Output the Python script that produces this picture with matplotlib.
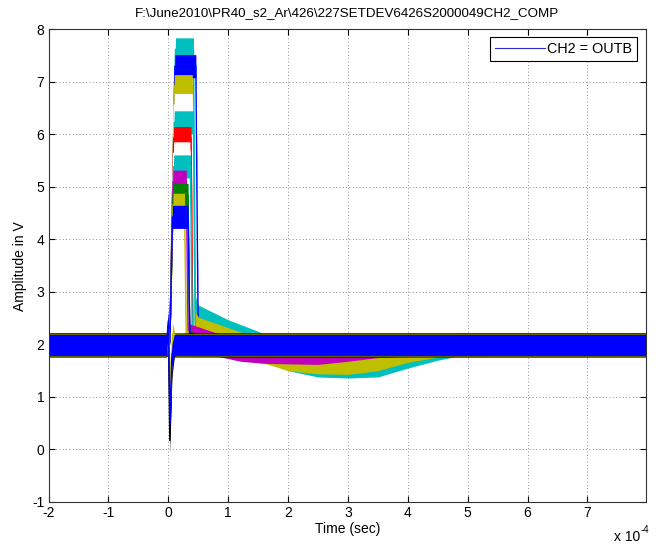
import matplotlib
matplotlib.use("Agg")
import matplotlib.pyplot as plt
from matplotlib.lines import Line2D

plt.rcParams['font.family'] = ['Liberation Sans', 'DejaVu Sans']

# ---------------- data (time in units of 1e-4 s, amplitude in V) ----------------
title = r"F:\June2010\PR40_s2_Ar\426\227SETDEV6426S2000049CH2_COMP"
legend_label = "CH2 = OUTB"

trace_colors = ['c', 'b', 'y', 'w', 'c', 'r', 'w', 'c', 'm', 'g', 'y', 'b', 'k', 'y', 'b']

trace_times = [
    [-2.0, -0.02, 0.03, 0.12, 0.42, 0.45, 0.5, 1.0, 1.5, 2.0, 2.5, 3.0, 3.5, 4.0, 4.5, 4.8, 7.98],
    [-2.0, -0.02, 0.03, 0.11, 0.46, 0.50, 7.98],
    [-2.0, -0.02, 0.03, 0.10, 0.40, 0.43, 0.5, 1.0, 1.5, 2.0, 2.5, 3.0, 3.5, 4.0, 4.5, 7.98],
    [-2.0, -0.02, 0.03, 0.10, 0.40, 0.43, 0.6, 7.98],
    [-2.0, -0.02, 0.03, 0.10, 0.42, 0.45, 0.8, 7.98],
    [-2.0, -0.02, 0.03, 0.09, 0.38, 0.41, 0.8, 7.98],
    [-2.0, -0.02, 0.03, 0.09, 0.36, 0.39, 0.6, 7.98],
    [-2.0, -0.02, 0.03, 0.09, 0.37, 0.40, 0.8, 7.98],
    [-2.0, -0.02, 0.03, 0.08, 0.30, 0.33, 0.4, 0.8, 1.2, 1.6, 2.0, 2.5, 3.0, 3.5, 4.0, 7.98],
    [-2.0, -0.02, 0.03, 0.08, 0.33, 0.36, 0.45, 7.98],
    [-2.0, -0.02, 0.03, 0.08, 0.27, 0.30, 0.40, 7.98],
    [-2.0, -0.02, 0.03, 0.07, 0.33, 0.36, 0.45, 7.98],
    [-2.0, -0.03, 0.0, 0.025, 0.06, 0.10, 7.98],
    [-2.0, -0.03, 0.0, 0.04, 0.07, 0.11, 7.98],
    [-2.0, -0.03, 0.0, 0.03, 0.06, 0.10, 7.98],
]

trace_values = [
    [1.99, 1.99, 2.3, 7.62, 7.62, 2.70, 2.53, 2.25, 2.03, 1.72, 1.60, 1.58, 1.60, 1.77, 1.92, 1.99, 1.99],
    [1.99, 1.99, 2.3, 7.30, 7.30, 1.99, 1.99],
    [1.99, 1.99, 2.3, 6.92, 6.92, 2.45, 2.30, 2.10, 1.90, 1.72, 1.66, 1.65, 1.72, 1.88, 1.98, 1.99],
    [1.99, 1.99, 2.3, 6.56, 6.56, 2.00, 1.99, 1.99],
    [1.99, 1.99, 2.3, 6.23, 6.23, 2.10, 1.99, 1.99],
    [1.99, 1.99, 2.3, 5.93, 5.93, 2.15, 1.99, 1.99],
    [1.99, 1.99, 2.3, 5.64, 5.64, 2.00, 1.99, 1.99],
    [1.99, 1.99, 2.3, 5.39, 5.39, 2.10, 1.99, 1.99],
    [1.99, 1.99, 2.3, 5.10, 5.10, 2.20, 2.15, 2.00, 1.90, 1.86, 1.85, 1.84, 1.90, 1.97, 1.99, 1.99],
    [1.99, 1.99, 2.3, 4.85, 4.85, 2.05, 1.99, 1.99],
    [1.99, 1.99, 2.3, 4.66, 4.66, 2.05, 1.99, 1.99],
    [1.99, 1.99, 2.3, 4.43, 4.43, 2.02, 1.99, 1.99],
    [1.99, 1.99, 2.35, 0.17, 1.60, 1.99, 1.99],
    [1.99, 1.99, 2.30, 1.10, 2.20, 1.99, 1.99],
    [1.99, 1.99, 2.45, 0.55, 1.80, 1.99, 1.99],
]

trace_noise = [0.22, 0.22, 0.22, 0.22, 0.22, 0.22, 0.22, 0.22, 0.22, 0.22, 0.22, 0.22, 0.23, 0.21, 0.20]

x_ticks = [-2, -1, 0, 1, 2, 3, 4, 5, 6, 7]
y_ticks = [-1, 0, 1, 2, 3, 4, 5, 6, 7, 8]
x_limits = (-2, 7.98)
y_limits = (-1, 8)

# ---------------- figure ----------------
fig = plt.figure(figsize=(6.56, 5.45), dpi=100)
ax = fig.add_axes([0.074, 0.079, 0.911, 0.867])

for t, v, c, n in zip(trace_times, trace_values, trace_colors, trace_noise):
    lo = [val - n for val in v]
    hi = [val + n for val in v]
    ax.fill_between(t, lo, hi, color=c, linewidth=0, zorder=2)
    ax.plot(t, v, color=c, linewidth=1.0, zorder=2)

ax.set_xlim(*x_limits)
ax.set_ylim(*y_limits)
ax.set_xticks(x_ticks)
ax.set_yticks(y_ticks)
ax.set_xticklabels([str(v) for v in x_ticks])
ax.set_yticklabels([str(v) for v in y_ticks])
ax.grid(True, linestyle=(0, (1, 3)), color='#666666', linewidth=0.6, zorder=1)
ax.set_axisbelow(True)
ax.tick_params(direction='in', top=True, right=True, labelsize=10, length=4.5, width=0.8, pad=3)
for s in ax.spines.values():
    s.set_linewidth(0.8)
    s.set_color('#333333')
    s.set_zorder(5)

ax.set_title(title, fontsize=9.6, pad=9.3)
ax.set_xlabel("Time (sec)", fontsize=10, labelpad=1.5)
ax.set_ylabel("Amplitude in V", fontsize=10, labelpad=4)

fig.text(0.936, 0.0075, "x 10", fontsize=10, ha='left', va='baseline')
fig.text(0.976, 0.022, "-4", fontsize=7, ha='left', va='baseline')

handle = Line2D([], [], color='#2a2ad0', linewidth=0.8)
leg = ax.legend([handle], [legend_label], loc='upper right', fontsize=10.4,
                frameon=True, fancybox=False, edgecolor='black', framealpha=1,
                handlelength=3.5, borderpad=0.33, handletextpad=0.15,
                borderaxespad=0, bbox_to_anchor=(0.985, 0.984))
leg.get_frame().set_linewidth(0.8)

fig.savefig("out.png", dpi=100)
